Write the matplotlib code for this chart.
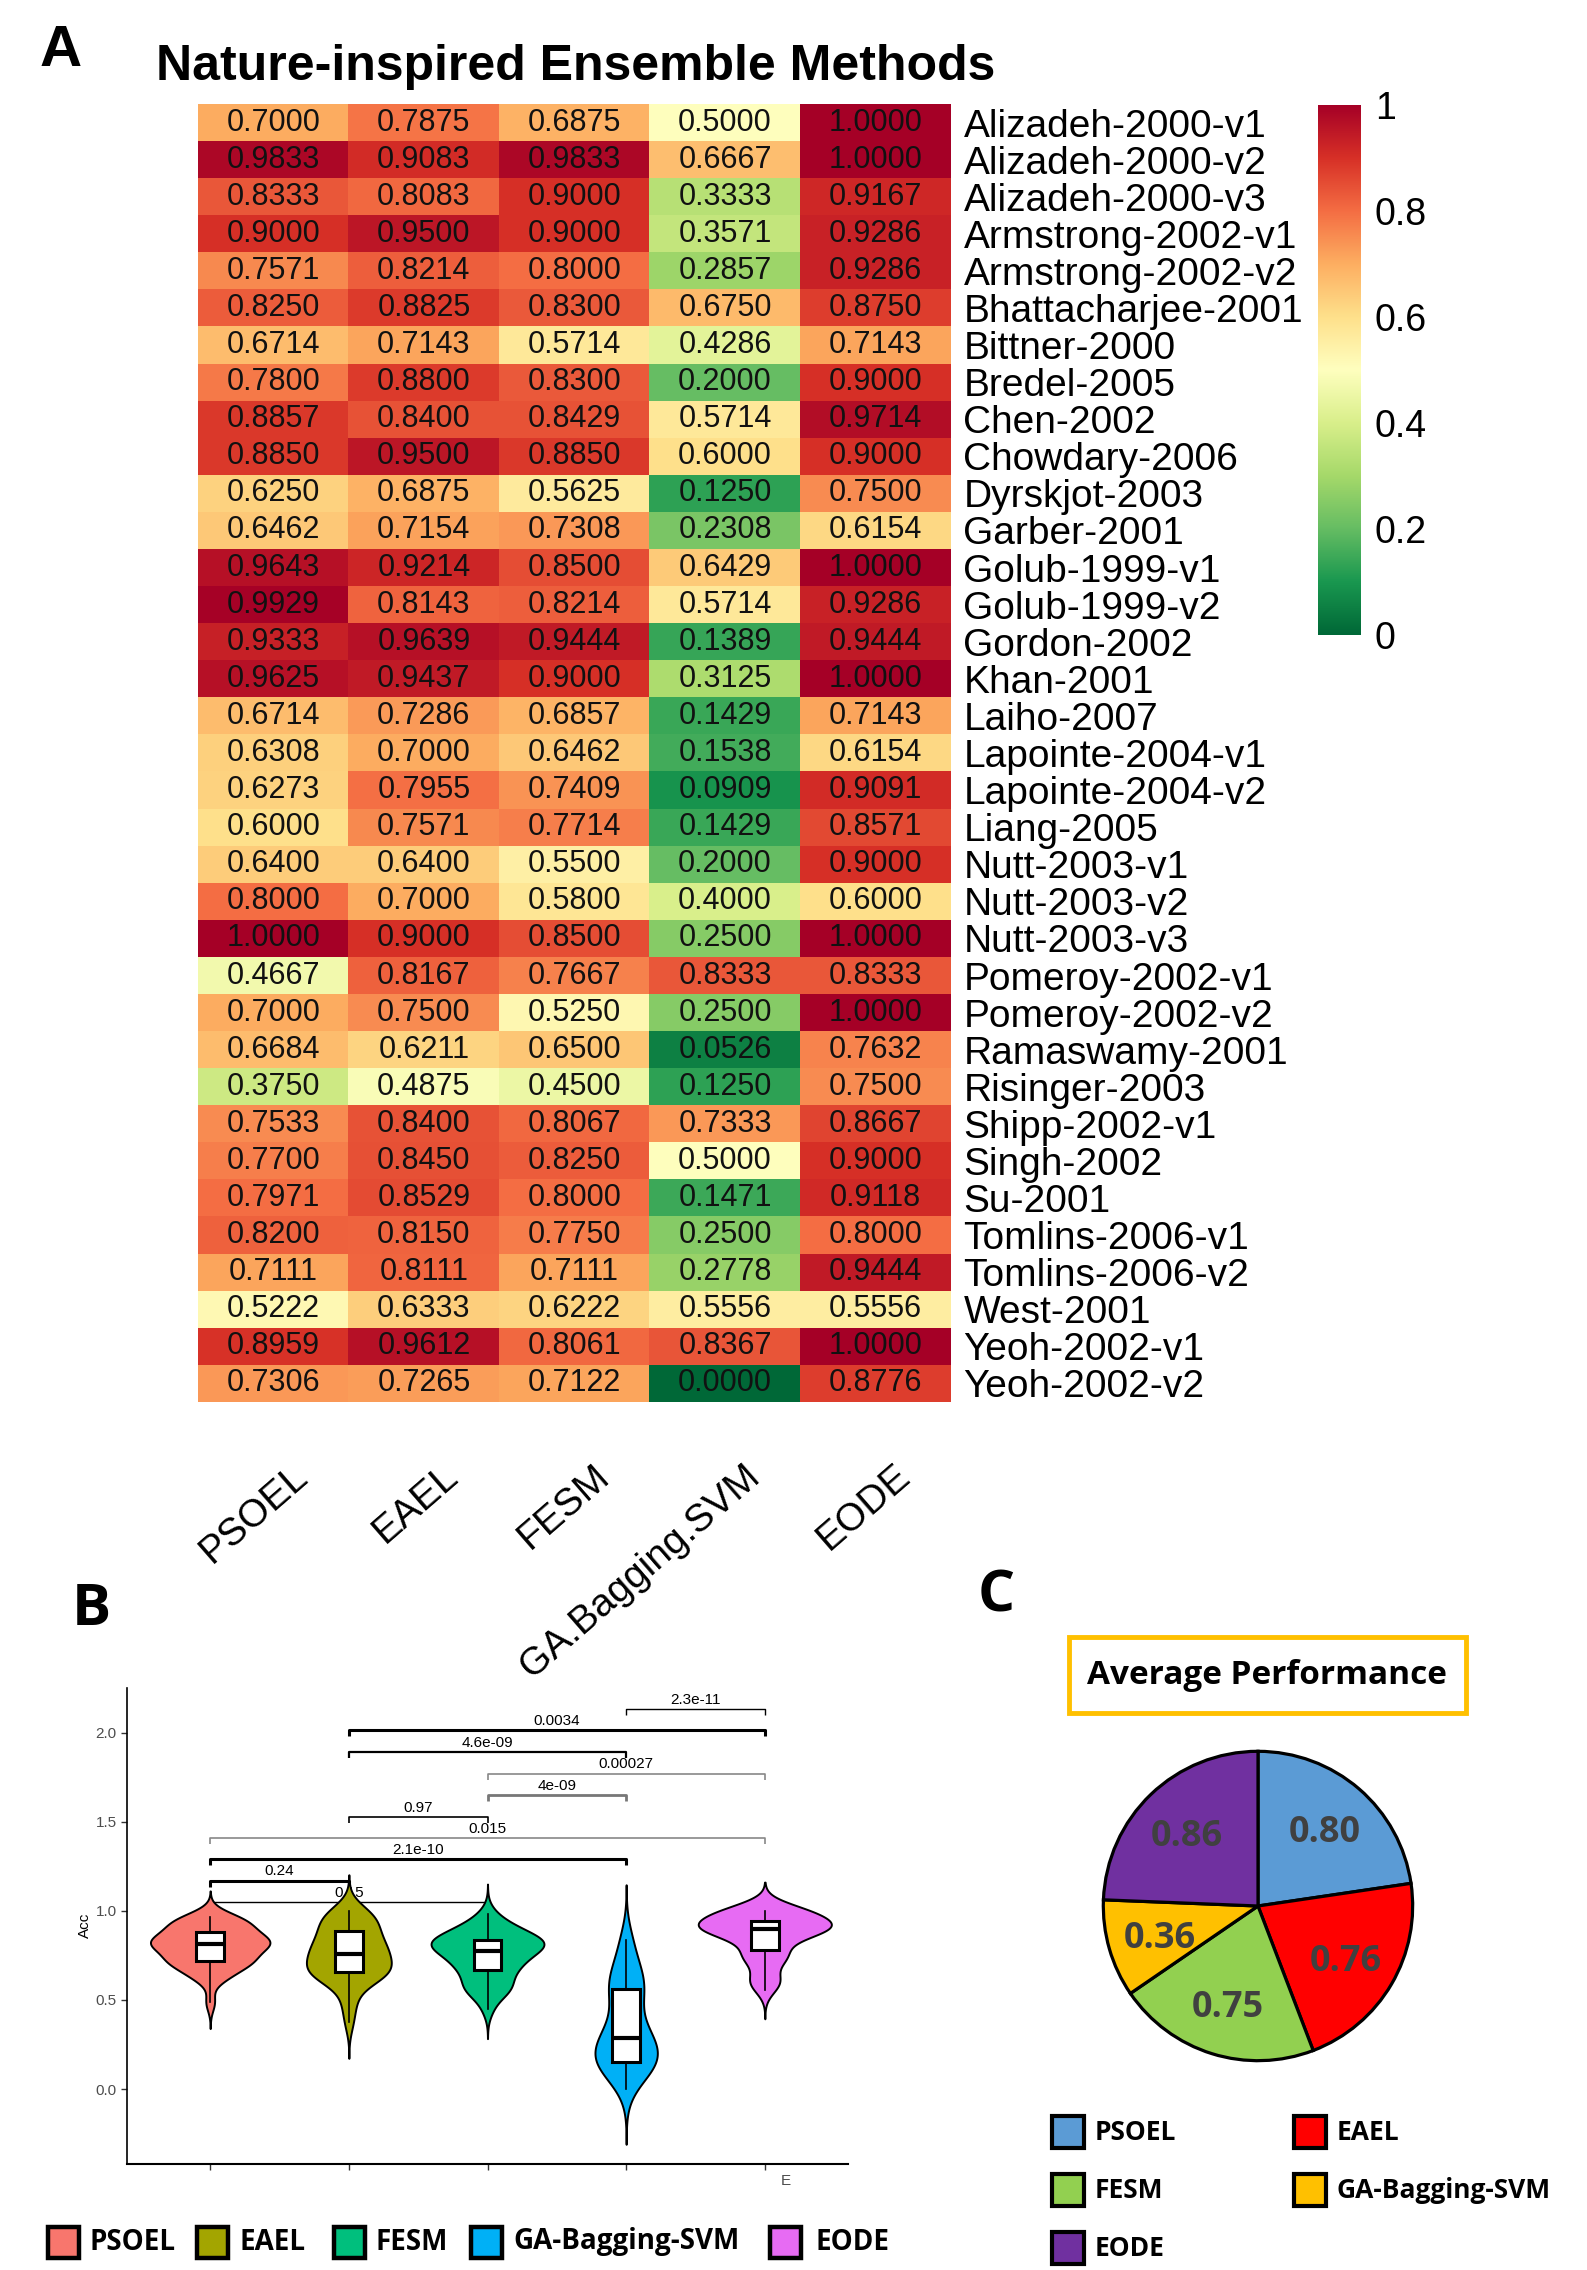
import numpy as np
import matplotlib
matplotlib.use('Agg')
import matplotlib.pyplot as plt
from matplotlib.patches import Rectangle

W, H = 1587, 2270

datasets = ["Alizadeh-2000-v1", "Alizadeh-2000-v2", "Alizadeh-2000-v3", "Armstrong-2002-v1",
            "Armstrong-2002-v2", "Bhattacharjee-2001", "Bittner-2000", "Bredel-2005", "Chen-2002",
            "Chowdary-2006", "Dyrskjot-2003", "Garber-2001", "Golub-1999-v1", "Golub-1999-v2",
            "Gordon-2002", "Khan-2001", "Laiho-2007", "Lapointe-2004-v1", "Lapointe-2004-v2",
            "Liang-2005", "Nutt-2003-v1", "Nutt-2003-v2", "Nutt-2003-v3", "Pomeroy-2002-v1",
            "Pomeroy-2002-v2", "Ramaswamy-2001", "Risinger-2003", "Shipp-2002-v1", "Singh-2002",
            "Su-2001", "Tomlins-2006-v1", "Tomlins-2006-v2", "West-2001", "Yeoh-2002-v1", "Yeoh-2002-v2"]

psoel = [0.7000, 0.9833, 0.8333, 0.9000, 0.7571, 0.8250, 0.6714, 0.7800, 0.8857, 0.8850,
         0.6250, 0.6462, 0.9643, 0.9929, 0.9333, 0.9625, 0.6714, 0.6308, 0.6273, 0.6000,
         0.6400, 0.8000, 1.0000, 0.4667, 0.7000, 0.6684, 0.3750, 0.7533, 0.7700, 0.7971,
         0.8200, 0.7111, 0.5222, 0.8959, 0.7306]
eael = [0.7875, 0.9083, 0.8083, 0.9500, 0.8214, 0.8825, 0.7143, 0.8800, 0.8400, 0.9500,
        0.6875, 0.7154, 0.9214, 0.8143, 0.9639, 0.9437, 0.7286, 0.7000, 0.7955, 0.7571,
        0.6400, 0.7000, 0.9000, 0.8167, 0.7500, 0.6211, 0.4875, 0.8400, 0.8450, 0.8529,
        0.8150, 0.8111, 0.6333, 0.9612, 0.7265]
fesm = [0.6875, 0.9833, 0.9000, 0.9000, 0.8000, 0.8300, 0.5714, 0.8300, 0.8429, 0.8850,
        0.5625, 0.7308, 0.8500, 0.8214, 0.9444, 0.9000, 0.6857, 0.6462, 0.7409, 0.7714,
        0.5500, 0.5800, 0.8500, 0.7667, 0.5250, 0.6500, 0.4500, 0.8067, 0.8250, 0.8000,
        0.7750, 0.7111, 0.6222, 0.8061, 0.7122]
ga_bagging_svm = [0.5000, 0.6667, 0.3333, 0.3571, 0.2857, 0.6750, 0.4286, 0.2000, 0.5714, 0.6000,
                  0.1250, 0.2308, 0.6429, 0.5714, 0.1389, 0.3125, 0.1429, 0.1538, 0.0909, 0.1429,
                  0.2000, 0.4000, 0.2500, 0.8333, 0.2500, 0.0526, 0.1250, 0.7333, 0.5000, 0.1471,
                  0.2500, 0.2778, 0.5556, 0.8367, 0.0000]
eode = [1.0000, 1.0000, 0.9167, 0.9286, 0.9286, 0.8750, 0.7143, 0.9000, 0.9714, 0.9000,
        0.7500, 0.6154, 1.0000, 0.9286, 0.9444, 1.0000, 0.7143, 0.6154, 0.9091, 0.8571,
        0.9000, 0.6000, 1.0000, 0.8333, 1.0000, 0.7632, 0.7500, 0.8667, 0.9000, 0.9118,
        0.8000, 0.9444, 0.5556, 1.0000, 0.8776]

heat_cols = ["PSOEL", "EAEL", "FESM", "GA.Bagging.SVM", "EODE"]
methods = ["PSOEL", "EAEL", "FESM", "GA-Bagging-SVM", "EODE"]
violin_colors = ["#F8766D", "#A3A500", "#00BF7D", "#00B0F6", "#E76BF3"]
# panel B of the original draws the first two columns in this order
violin_groups = [eael, psoel, fesm, ga_bagging_svm, eode]

# pairwise tests: (group a, group b, bracket height, p label)
pairs = [(4, 5, 2.133, "2.3e-11"), (2, 5, 2.015, "0.0034"), (2, 4, 1.89, "4.6e-09"),
         (3, 5, 1.77, "0.00027"), (3, 4, 1.65, "4e-09"), (2, 3, 1.526, "0.97"),
         (1, 5, 1.41, "0.015"), (1, 4, 1.29, "2.1e-10"), (1, 2, 1.17, "0.24"),
         (1, 3, 1.047, "0.15")]
pair_style = [(1.0, 'black'), (2.2, 'black'), (1.6, 'black'), (1.2, '#888888'), (2.0, '#777777'),
              (1.2, 'black'), (1.2, '#888888'), (2.2, 'black'), (2.2, 'black'), (1.0, 'black')]

pie_values = [0.80, 0.76, 0.75, 0.36, 0.86]
pie_colors = ["#5B9BD5", "#FF0000", "#92D050", "#FFC000", "#7030A0"]

ARIAL = ['Liberation Sans', 'DejaVu Sans']
SEGOE = ['Open Sans', 'DejaVu Sans']


def box(x0, y0, x1, y1):
    # pixel box, origin top-left -> figure fraction rect
    return [x0 / W, 1 - y1 / H, (x1 - x0) / W, (y1 - y0) / H]


def fx(x):
    return x / W


def fy(y):
    return 1 - y / H


def legend_square(fig, x, yc, color, size=32, lw=3):
    rect = Rectangle((fx(x), fy(yc + size / 2)), size / W, size / H, transform=fig.transFigure,
                     facecolor=color, edgecolor='black', linewidth=lw)
    fig.add_artist(rect)


def nrd0(x):
    sd = np.std(x, ddof=1)
    q75, q25 = np.percentile(x, [75, 25])
    lo = min(sd, (q75 - q25) / 1.34)
    return 0.9 * lo * len(x) ** -0.2


def kde(x, n=512, cut=3):
    x = np.asarray(x)
    bw = nrd0(x)
    grid = np.linspace(x.min() - cut * bw, x.max() + cut * bw, n)
    z = (grid[:, None] - x[None, :]) / bw
    dens = np.exp(-0.5 * z ** 2).sum(axis=1) / (len(x) * bw * np.sqrt(2 * np.pi))
    return grid, dens


fig = plt.figure(figsize=(W / 100, H / 100), dpi=100)

# ---------------- A: heatmap ----------------
mat = np.column_stack([psoel, eael, fesm, ga_bagging_svm, eode])
nrow = len(datasets)

fig.text(fx(40), fy(51), "A", fontsize=42, fontweight='bold', family=ARIAL, va='center')
fig.text(fx(156), fy(67), "Nature-inspired Ensemble Methods", fontsize=36, fontweight='bold',
         family=ARIAL, va='center')

ax = fig.add_axes(box(198, 104, 951, 1402))
ax.imshow(mat, cmap='RdYlGn_r', vmin=0, vmax=1, aspect='auto', interpolation='nearest')
for i in range(nrow):
    for j in range(mat.shape[1]):
        ax.text(j, i, '%.4f' % mat[i, j], ha='center', va='center', fontsize=22,
                family=ARIAL, color='#111111')
ax.set_yticks(range(nrow))
ax.set_yticklabels(datasets, fontsize=28, family=ARIAL)
ax.yaxis.tick_right()
ax.tick_params(length=0, pad=9)
ax.set_xticks([])
for sp in ax.spines.values():
    sp.set_visible(False)
for j, name in enumerate(heat_cols):
    ax.text(j + 0.12, nrow + 1.0, name, rotation=41, ha='right', va='top',
            rotation_mode='anchor', fontsize=28, family=ARIAL, clip_on=False)

cax = fig.add_axes(box(1318, 105, 1361, 635))
cax.imshow(np.linspace(0, 1, 256)[:, None], cmap='RdYlGn_r', aspect='auto', origin='lower',
           extent=[0, 1, 0, 1])
cax.set_xticks([])
cax.yaxis.tick_right()
cax.set_yticks([0, 0.2, 0.4, 0.6, 0.8, 1.0])
cax.set_yticklabels(['0', '0.2', '0.4', '0.6', '0.8', '1'], fontsize=27, family=ARIAL)
cax.tick_params(length=0, pad=10)
for sp in cax.spines.values():
    sp.set_visible(False)

# ---------------- B: violins ----------------
fig.text(fx(72), fy(1610), "B", fontsize=42, fontweight='bold', family=SEGOE, va='center')

bx = fig.add_axes(box(127, 1688, 848, 2164))
kdes = [kde(c) for c in violin_groups]
dmax = max(d.max() for _, d in kdes)
for k, ((grid, dens), col) in enumerate(zip(kdes, violin_colors)):
    half = 0.48 * dens / dmax
    bx.fill_betweenx(grid, k + 1 - half, k + 1 + half, facecolor=col, edgecolor='black',
                     linewidth=1.4, zorder=2)
bx.boxplot(violin_groups, positions=range(1, 6), widths=0.2, patch_artist=True,
           showfliers=False, manage_ticks=False,
           boxprops=dict(facecolor='white', edgecolor='black', linewidth=2.2),
           medianprops=dict(color='black', linewidth=3),
           whiskerprops=dict(color='black', linewidth=1.2),
           capprops=dict(linewidth=0), zorder=3)

tip = 0.035
for (a, b, yb, lab), (lw, colr) in zip(pairs, pair_style):
    bx.plot([a, a, b, b], [yb - tip, yb, yb, yb - tip], color=colr, linewidth=lw, zorder=1,
            solid_capstyle='butt')
    bx.text((a + b) / 2, yb + 0.012, lab, ha='center', va='bottom', fontsize=11,
            family=ARIAL, color='black', zorder=1)

bx.set_xlim(0.4, 5.6)
bx.set_ylim(-0.42, 2.25)
bx.set_yticks([0, 0.5, 1.0, 1.5, 2.0])
bx.set_yticklabels(['0.0', '0.5', '1.0', '1.5', '2.0'], fontsize=11, family=ARIAL, color='#4d4d4d')
bx.set_xticks(range(1, 6))
bx.set_xticklabels([''] * 5)
bx.tick_params(length=4, width=1, color='#333333')
bx.spines['top'].set_visible(False)
bx.spines['right'].set_visible(False)
bx.spines['left'].set_linewidth(1.2)
bx.spines['bottom'].set_linewidth(1.5)
fig.text(fx(85), fy(1925), "Acc", rotation=90, fontsize=11, family=ARIAL, ha='center',
         va='center')
fig.text(fx(786), fy(2181), "E", fontsize=11, family=ARIAL, ha='center', va='center',
         color='#4d4d4d')

leg_sq_x = [48, 197, 334, 471, 770]
leg_tx_x = [89, 240, 375, 513, 815]
for sx, tx, name, col in zip(leg_sq_x, leg_tx_x, methods, violin_colors):
    legend_square(fig, sx, 2242, col, size=31, lw=3.2)
    fig.text(fx(tx), fy(2242), name, fontsize=20, fontweight='bold', family=SEGOE,
             va='center', ha='left')

# ---------------- C: pie ----------------
fig.text(fx(978), fy(1596), "C", fontsize=42, fontweight='bold', family=SEGOE, va='center')

title_box = Rectangle((fx(1069), fy(1713)), (1466 - 1069) / W, (1713 - 1637) / H,
                      transform=fig.transFigure, facecolor='white', edgecolor='#FFC000',
                      linewidth=3.5)
fig.add_artist(title_box)
fig.text(fx(1267), fy(1675), "Average Performance", fontsize=24, fontweight='bold',
         family=SEGOE, ha='center', va='center')

px = fig.add_axes(box(1258 - 157, 1906 - 157, 1258 + 157, 1906 + 157))
total = sum(pie_values)
wedges, _, autotexts = px.pie(pie_values, colors=pie_colors, startangle=90, counterclock=False,
                              radius=1, pctdistance=0.66,
                              autopct=lambda p: '%.2f' % (p * total / 100),
                              wedgeprops=dict(edgecolor='black', linewidth=2.3))
for t in autotexts:
    t.set_fontsize(26)
    t.set_fontweight('bold')
    t.set_family(SEGOE)
    t.set_color('#404040')
    xt, yt = t.get_position()
    t.set_position((xt, yt - 0.03))
px.set_xlim(-1.015, 1.015)
px.set_ylim(-1.015, 1.015)

pie_leg = [(1052, 1095, 2132), (1294, 1337, 2132), (1052, 1095, 2190), (1294, 1337, 2190),
           (1052, 1095, 2248)]
for (sx, tx, yc), name, col in zip(pie_leg, methods, pie_colors):
    legend_square(fig, sx, yc, col, size=32, lw=3)
    fig.text(fx(tx), fy(yc), name, fontsize=19, fontweight='bold', family=SEGOE,
             va='center', ha='left')

fig.savefig('out.png', dpi=100, facecolor='white')
